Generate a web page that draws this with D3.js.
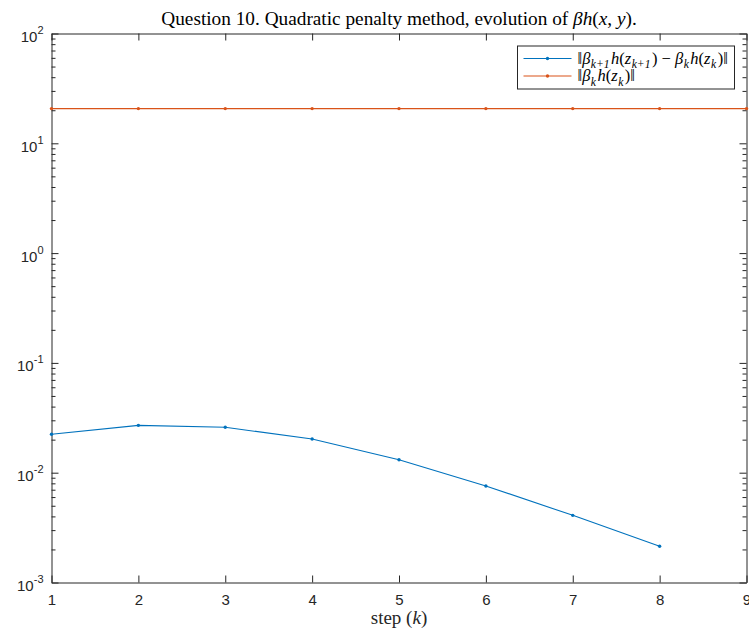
<!DOCTYPE html>
<html>
<head>
<meta charset="utf-8">
<script src="https://cdn.jsdelivr.net/npm/d3@7"></script>
<style>
  body { margin: 0; background: #fff; }
  .axis path, .axis line { stroke: #262626; }
  .axis text { fill: #262626; font-family: "Liberation Sans", Arial, sans-serif; font-size: 15px; }
</style>
</head>
<body>
<div id="chart"></div>
<script>
// data
const diffSteps = [1, 2, 3, 4, 5, 6, 7, 8];
const diffNorm = [0.0224, 0.0270, 0.0259, 0.0203, 0.0131, 0.00757, 0.00409, 0.00214];
const hSteps = [1, 2, 3, 4, 5, 6, 7, 8, 9];
const hNorm = [20.7, 20.7, 20.7, 20.7, 20.7, 20.7, 20.7, 20.7, 20.7];
const xTicks = [1, 2, 3, 4, 5, 6, 7, 8, 9];
const yExponents = [-3, -2, -1, 0, 1, 2];

const width = 749;
const height = 635;
const margin = { top: 33.5, right: 2.5, bottom: 52.5, left: 51.5 };
const chartWidth = width - margin.left - margin.right;
const chartHeight = height - margin.top - margin.bottom;

const blue = "#0072BD";
const orange = "#D95319";
const serif = "'Liberation Serif', 'DejaVu Serif', serif";

const xScale = d3.scaleLinear().domain([1, 9]).range([0, chartWidth]);
const yScale = d3.scaleLog().domain([1e-3, 1e2]).range([chartHeight, 0]);

const svg = d3.select("#chart").append("svg")
  .attr("width", width)
  .attr("height", height);

const chart = svg.append("g")
  .attr("transform", `translate(${margin.left},${margin.top})`);

// minor ticks on log axis
const minorTicks = [];
yExponents.slice(0, -1).forEach(e => {
  for (let m = 2; m <= 9; m++) minorTicks.push(m * Math.pow(10, e));
});
const majorTicks = yExponents.map(e => Math.pow(10, e));

// bottom and top x axes
const xAxis = chart.append("g").attr("class", "axis")
  .attr("transform", `translate(0,${chartHeight})`)
  .call(d3.axisBottom(xScale).tickValues(xTicks).tickSize(-7).tickSizeOuter(0).tickPadding(12).tickFormat(d3.format("d")));
xAxis.selectAll("text").attr("dy", "0.71em");

chart.append("g").attr("class", "axis")
  .call(d3.axisTop(xScale).tickValues(xTicks).tickSize(-7).tickSizeOuter(0).tickFormat(""));

// left y axis with 10^n labels
const yAxis = chart.append("g").attr("class", "axis")
  .call(d3.axisLeft(yScale).tickValues(majorTicks).tickSize(-7).tickSizeOuter(0).tickFormat(""));

yAxis.selectAll(".tick").each(function(d) {
  const t = d3.select(this).select("text");
  t.text(null);
  t.append("tspan").text("10");
  t.append("tspan").attr("dy", -8).style("font-size", "11px").text(Math.round(Math.log10(d)));
  t.attr("x", -8).attr("dy", "0.53em");
});

chart.append("g").attr("class", "axis minor")
  .call(d3.axisLeft(yScale).tickValues(minorTicks).tickSize(-4).tickSizeOuter(0).tickFormat(""))
  .select(".domain").remove();

// right y axis, ticks only
chart.append("g").attr("class", "axis")
  .attr("transform", `translate(${chartWidth},0)`)
  .call(d3.axisRight(yScale).tickValues(majorTicks).tickSize(-7).tickSizeOuter(0).tickFormat(""));
chart.append("g").attr("class", "axis minor")
  .attr("transform", `translate(${chartWidth},0)`)
  .call(d3.axisRight(yScale).tickValues(minorTicks).tickSize(-4).tickSizeOuter(0).tickFormat(""))
  .select(".domain").remove();

// lines
const series = [
  { title: "diff", xs: diffSteps, ys: diffNorm, colour: blue },
  { title: "h", xs: hSteps, ys: hNorm, colour: orange }
];

const line = d3.line()
  .x(d => xScale(d[0]))
  .y(d => yScale(d[1]));

series.forEach(s => {
  const pts = s.xs.map((x, i) => [x, s.ys[i]]);
  chart.append("path")
    .datum(pts)
    .attr("d", line)
    .style("fill", "none")
    .style("stroke", s.colour)
    .style("stroke-width", 1.1);
  chart.selectAll(null)
    .data(pts)
    .enter()
    .append("circle")
    .attr("cx", d => xScale(d[0]))
    .attr("cy", d => yScale(d[1]))
    .attr("r", 1.7)
    .style("fill", s.colour);
});

// math-ish text helper: [text, kind] where kind is r (roman), i (italic), s (subscript)
function mathText(sel, parts, size) {
  let sub = false;
  parts.forEach(([txt, kind]) => {
    const ts = sel.append("tspan").text(txt);
    if (kind === "s") {
      ts.style("font-size", (size * 0.7) + "px").style("font-style", "italic");
      if (!sub) ts.attr("dy", size * 0.28).attr("dx", 0.5);
      sub = true;
    } else {
      if (sub) ts.attr("dy", -size * 0.28).attr("dx", 1.5);
      sub = false;
      if (kind === "i") ts.style("font-style", "italic");
    }
  });
}

// title
const title = svg.append("text")
  .attr("x", margin.left + chartWidth / 2)
  .attr("y", 25)
  .attr("text-anchor", "middle")
  .style("font-family", serif)
  .style("font-size", "19.3px")
  .style("fill", "#000");
mathText(title, [
  ["Question 10. Quadratic penalty method, evolution of ", "r"],
  ["βh", "i"], ["(", "r"], ["x", "i"], [", ", "r"], ["y", "i"], [").", "r"]
], 19.3);

// x label
const xLabel = svg.append("text")
  .attr("x", margin.left + chartWidth / 2)
  .attr("y", 624)
  .attr("text-anchor", "middle")
  .style("font-family", serif)
  .style("font-size", "19px")
  .style("fill", "#262626");
mathText(xLabel, [["step (", "r"], ["k", "i"], [")", "r"]], 19);

// legend
const legend = chart.append("g")
  .attr("transform", `translate(${chartWidth - 229},${12.5})`);
legend.append("rect")
  .attr("width", 217)
  .attr("height", 43)
  .style("fill", "#fff")
  .style("stroke", "#262626")
  .style("stroke-width", 1);

const legendLabels = [
  [["‖", "r"], ["β", "i"], ["k+1", "s"], ["h", "i"], ["(", "r"], ["z", "i"], ["k+1", "s"], [") − ", "r"],
   ["β", "i"], ["k", "s"], ["h", "i"], ["(", "r"], ["z", "i"], ["k", "s"], [")‖", "r"]],
  [["‖", "r"], ["β", "i"], ["k", "s"], ["h", "i"], ["(", "r"], ["z", "i"], ["k", "s"], [")‖", "r"]]
];

series.forEach((s, i) => {
  const yy = 12.5 + i * 17.5;
  legend.append("line")
    .attr("x1", 6).attr("x2", 54)
    .attr("y1", yy).attr("y2", yy)
    .style("stroke", s.colour)
    .style("stroke-width", 1.1);
  legend.append("circle")
    .attr("cx", 30).attr("cy", yy).attr("r", 1.7)
    .style("fill", s.colour);
  const t = legend.append("text")
    .attr("x", 60)
    .attr("y", yy + 5)
    .style("font-family", serif)
    .style("font-size", "16.5px")
    .style("fill", "#000");
  mathText(t, legendLabels[i], 16.5);
});
</script>
</body>
</html>
